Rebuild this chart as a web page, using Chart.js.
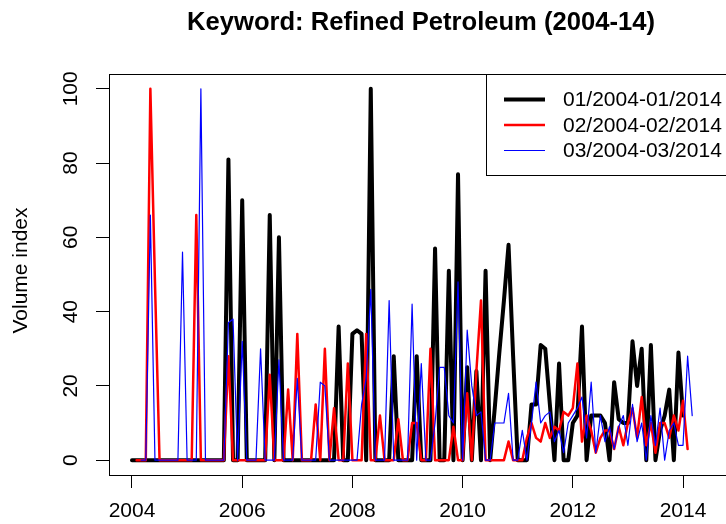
<!DOCTYPE html>
<html>
<head>
<meta charset="utf-8">
<script src="https://cdn.jsdelivr.net/npm/chart.js@4.4.1/dist/chart.umd.min.js"></script>
<style>
  html, body { margin: 0; padding: 0; background: #fff; }
  canvas { display: block; }
</style>
</head>
<body>
<canvas id="chart" width="726" height="524"></canvas>
<script>
// Google Trends style monthly volume index, three query windows
const titleText = "Keyword: Refined Petroleum (2004-14)";
const yTitle = "Volume index";
const seriesNames = ["01/2004-01/2014", "02/2004-02/2014", "03/2004-03/2014"];
const seriesStart = [0, 1, 2]; // first month, counted from Jan 2004

// Jan 2004 .. Jan 2014
const blackValues = [
  0, 0, 0, 0, 0, 0, 0, 0, 0, 0,
  0, 0, 0, 0, 0, 0, 0, 0, 0, 0,
  0, 81, 0, 0, 70, 0, 0, 0, 0, 0,
  66, 0, 60, 0, 0, 0, 0, 0, 0, 0,
  0, 0, 0, 0, 0, 36, 0, 0, 34, 35,
  34, 0, 100, 0, 0, 0, 0, 28, 0, 0,
  0, 0, 28, 0, 0, 0, 57, 0, 0, 51,
  0, 77, 0, 25, 0, 24, 0, 51, 0, 14,
  29, 43, 58, 28, 0, 0, 0, 15, 15, 31,
  30, 15, 0, 26, 0, 0, 10, 12, 36, 0,
  12, 12, 12, 10, 0, 21, 11, 10, 10, 32,
  20, 30, 0, 31, 0, 8, 12, 19, 0, 29,
  12
];
// Feb 2004 .. Feb 2014
const redValues = [
  0, 0, 0, 100, 48, 0, 0, 0, 0,
  0, 0, 0, 0, 66, 0, 0, 0, 0, 0,
  0, 28, 0, 0, 0, 0, 0, 0, 0, 0,
  23, 0, 0, 0, 19, 0, 34, 0, 0, 0,
  15, 0, 30, 0, 14, 0, 0, 26, 0, 0,
  0, 34, 0, 0, 12, 0, 0, 0, 11, 0,
  0, 10, 10, 0, 0, 30, 0, 0, 0, 0,
  9, 0, 0, 18, 0, 24, 43, 0, 0, 0,
  0, 0, 5, 0, 0, 0, 6, 10, 6, 5,
  10, 6, 9, 8, 13, 12, 14, 26, 5, 12,
  8, 2, 6, 8, 8, 3, 9, 4, 10, 14,
  6, 17, 4, 10, 2, 10, 10, 6, 12, 8,
  16, 3
];
// Mar 2004 .. Mar 2014
const blueValues = [
  0, 0, 66, 0, 0, 0, 0, 0, 0, 56,
  0, 0, 0, 100, 0, 0, 0, 0, 0, 37,
  38, 0, 32, 0, 0, 0, 30, 0, 0, 0,
  27, 0, 0, 0, 22, 0, 0, 0, 0, 21,
  20, 0, 0, 0, 0, 0, 0, 0, 15, 22,
  46, 0, 0, 0, 43, 0, 0, 0, 0, 42,
  0, 26, 0, 0, 10, 25, 25, 12, 10, 48,
  0, 35, 20, 12, 13, 0, 0, 10, 10, 10,
  18, 0, 0, 8, 0, 10, 21, 10, 12, 13,
  5, 8, 2, 10, 12, 14, 17, 6, 21, 2,
  12, 5, 9, 3, 9, 12, 4, 15, 5, 10,
  0, 12, 4, 14, 0, 8, 10, 4, 4, 28,
  12
];

const xTicks = [2004, 2006, 2008, 2010, 2012, 2014];
const yTicks = [0, 20, 40, 60, 80, 100];

function toPoints(values, start) {
  return values.map((v, i) => ({ x: 2004 + (start + i) / 12, y: v }));
}

const font = '"Liberation Sans", Arial, Helvetica, sans-serif';

// R-like decorations: title, box top, rotated y labels, legend box
const rStyle = {
  id: "rStyle",
  afterDraw(chart) {
    const ctx = chart.ctx;
    const a = chart.chartArea;
    const ys = chart.scales.y;
    ctx.save();
    ctx.strokeStyle = "#000";
    ctx.lineWidth = 1;
    ctx.beginPath();
    ctx.moveTo(a.left, a.top + 0.5);
    ctx.lineTo(a.right + 5, a.top + 0.5);
    ctx.stroke();

    ctx.fillStyle = "#000";
    ctx.textAlign = "center";
    ctx.textBaseline = "middle";
    ctx.font = "bold 25.6px " + font;
    ctx.fillText(titleText, 421, 23);

    ctx.font = "21px " + font;
    yTicks.forEach(v => {
      ctx.save();
      ctx.translate(71, ys.getPixelForValue(v));
      ctx.rotate(-Math.PI / 2);
      ctx.fillText(String(v), 0, 0);
      ctx.restore();
    });
    ctx.save();
    ctx.translate(21, (a.top + a.bottom) / 2 - 4);
    ctx.rotate(-Math.PI / 2);
    ctx.fillText(yTitle, 0, 0);
    ctx.restore();

    // legend
    ctx.fillStyle = "#fff";
    ctx.fillRect(486.5, 74.5, 260, 101);
    ctx.strokeStyle = "#000";
    ctx.lineWidth = 1;
    ctx.strokeRect(486.5, 74.5, 260, 101);
    ctx.textAlign = "left";
    chart.data.datasets.forEach((ds, i) => {
      const ly = 99.5 + i * 25.5;
      ctx.strokeStyle = ds.borderColor;
      ctx.lineWidth = ds.borderWidth;
      ctx.beginPath();
      ctx.moveTo(504, ly);
      ctx.lineTo(545, ly);
      ctx.stroke();
      ctx.fillStyle = "#000";
      ctx.fillText(ds.label, 563, ly + 1);
    });
    ctx.restore();
  }
};

new Chart(document.getElementById("chart"), {
  type: "line",
  data: {
    datasets: [
      { label: seriesNames[0], data: toPoints(blackValues, seriesStart[0]), borderColor: "#000000", borderWidth: 4, order: 3 },
      { label: seriesNames[1], data: toPoints(redValues, seriesStart[1]), borderColor: "#ff0000", borderWidth: 2.5, order: 2 },
      { label: seriesNames[2], data: toPoints(blueValues, seriesStart[2]), borderColor: "#0000ff", borderWidth: 1.2, order: 1 }
    ]
  },
  options: {
    responsive: false,
    animation: false,
    devicePixelRatio: 1,
    layout: { padding: { top: 74, left: 0, right: 0, bottom: 0 } },
    elements: {
      point: { radius: 0 },
      line: { tension: 0, borderJoinStyle: "round", borderCapStyle: "round", fill: false }
    },
    plugins: {
      legend: { display: false },
      title: { display: false },
      tooltip: { enabled: false }
    },
    scales: {
      x: {
        type: "linear",
        min: 2003.5826,
        max: 2014.78,
        afterBuildTicks: s => { s.ticks = xTicks.map(v => ({ value: v })); },
        afterFit: s => { s.height = 49; },
        grid: { drawOnChartArea: false, drawTicks: true, tickLength: 13, color: "#000" },
        border: { display: true, color: "#000", width: 1 },
        ticks: {
          autoSkip: false, maxRotation: 0, padding: 11, color: "#000",
          font: { family: font, size: 21 },
          callback: v => String(v)
        }
      },
      y: {
        type: "linear",
        min: -4,
        max: 104,
        afterBuildTicks: s => { s.ticks = yTicks.map(v => ({ value: v })); },
        afterFit: s => { s.width = 109; },
        grid: { drawOnChartArea: false, drawTicks: true, tickLength: 13, color: "#000" },
        border: { display: true, color: "#000", width: 1 },
        ticks: { display: false }
      }
    }
  },
  plugins: [rStyle]
});
</script>
</body>
</html>
